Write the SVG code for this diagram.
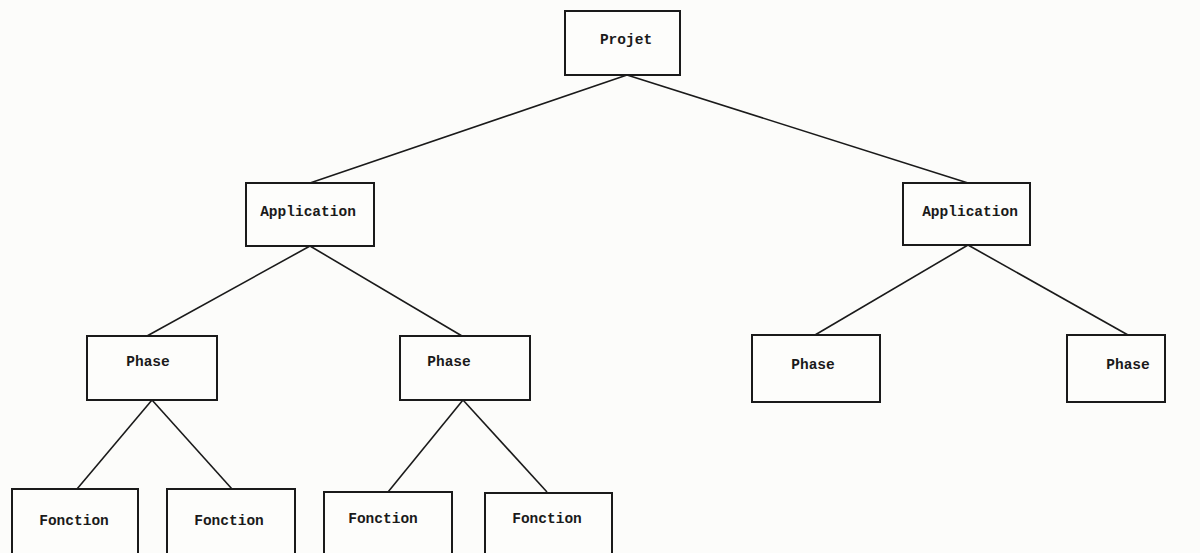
<svg xmlns="http://www.w3.org/2000/svg" width="1200" height="553" viewBox="0 0 1200 553">
  <style>
    .box { fill: #fdfdfb; stroke: #1a1a1a; stroke-width: 2; }
    .lbl { font-family: "Liberation Mono", "DejaVu Sans Mono", monospace; font-weight: bold; font-size: 14.5px; fill: #1a1a1a; text-anchor: middle; }
    .edge { stroke: #1a1a1a; stroke-width: 1.6; fill: none; }
  </style>
  <rect x="0" y="0" width="1200" height="553" fill="#fcfcfa"/>

  <g id="connectors">
    <line class="edge" x1="627" y1="75" x2="310" y2="183"/>
    <line class="edge" x1="627" y1="75" x2="968" y2="183"/>
    <line class="edge" x1="310" y1="246" x2="147" y2="336"/>
    <line class="edge" x1="310" y1="246" x2="462" y2="336"/>
    <line class="edge" x1="968" y1="245" x2="815" y2="335"/>
    <line class="edge" x1="968" y1="245" x2="1128" y2="335"/>
    <line class="edge" x1="152" y1="400" x2="77" y2="489"/>
    <line class="edge" x1="152" y1="400" x2="232" y2="489"/>
    <line class="edge" x1="463" y1="400" x2="388" y2="492"/>
    <line class="edge" x1="463" y1="400" x2="547" y2="492"/>
  </g>

  <g id="projet">
    <rect class="box" x="565" y="11" width="115" height="64"/>
    <text class="lbl" x="626" y="44">Projet</text>
  </g>

  <g id="application-1">
    <rect class="box" x="246" y="183" width="128" height="63"/>
    <text class="lbl" x="308" y="216">Application</text>
  </g>
  <g id="application-2">
    <rect class="box" x="903" y="183" width="127" height="62"/>
    <text class="lbl" x="970" y="216">Application</text>
  </g>

  <g id="phase-1">
    <rect class="box" x="87" y="336" width="130" height="64"/>
    <text class="lbl" x="148" y="366">Phase</text>
  </g>
  <g id="phase-2">
    <rect class="box" x="400" y="336" width="130" height="64"/>
    <text class="lbl" x="449" y="366">Phase</text>
  </g>
  <g id="phase-3">
    <rect class="box" x="752" y="335" width="128" height="67"/>
    <text class="lbl" x="813" y="369">Phase</text>
  </g>
  <g id="phase-4">
    <rect class="box" x="1067" y="335" width="98" height="67"/>
    <text class="lbl" x="1128" y="369">Phase</text>
  </g>

  <g id="fonction-1">
    <rect class="box" x="12" y="489" width="126" height="72"/>
    <text class="lbl" x="74" y="525">Fonction</text>
  </g>
  <g id="fonction-2">
    <rect class="box" x="167" y="489" width="128" height="72"/>
    <text class="lbl" x="229" y="525">Fonction</text>
  </g>
  <g id="fonction-3">
    <rect class="box" x="324" y="492" width="128" height="69"/>
    <text class="lbl" x="383" y="523">Fonction</text>
  </g>
  <g id="fonction-4">
    <rect class="box" x="485" y="493" width="127" height="68"/>
    <text class="lbl" x="547" y="523">Fonction</text>
  </g>
</svg>
